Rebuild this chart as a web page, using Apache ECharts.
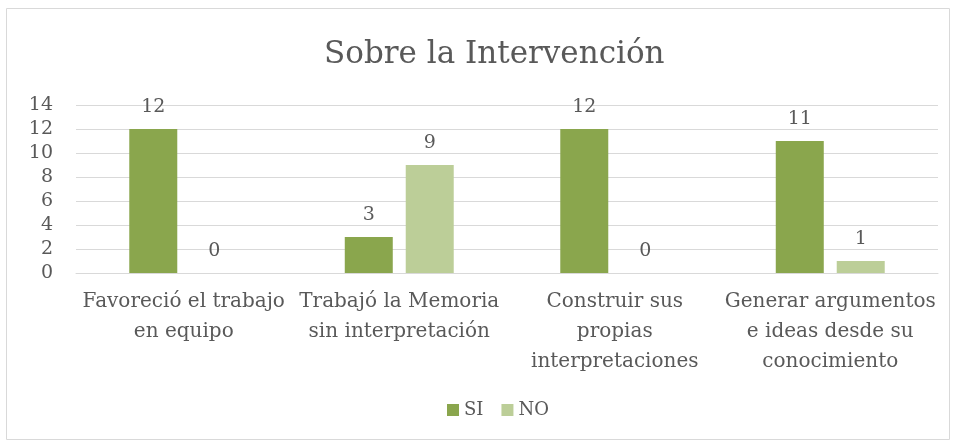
<!DOCTYPE html>
<html><head><meta charset="utf-8">
<script src="https://cdn.jsdelivr.net/npm/echarts@6/dist/echarts.min.js"></script>
<style>html,body{margin:0;padding:0;background:#fff}#c{width:956px;height:446px}</style>
</head><body><div id="c"></div>
<script>
const categories = ["Favoreció el trabajo\nen equipo", "Trabajó la Memoria\nsin interpretación", "Construir sus\npropias\ninterpretaciones", "Generar argumentos\ne ideas desde su\nconocimiento"];
const siValues = [12, 3, 12, 11];
const noValues = [0, 9, 0, 1];
const yTicks = [0, 2, 4, 6, 8, 10, 12, 14];
const FONT = "DejaVu Serif";
const TXT = "#595959";
const chart = echarts.init(document.getElementById('c'));
chart.setOption({
  animation: false,
  graphic: [{type:'rect', shape:{x:6.5,y:8.5,width:943,height:431}, style:{fill:'none', stroke:'#D9D9D9', lineWidth:1}, silent:true}],
  title: {text: 'Sobre la Intervención', left: 319, top: 34, textStyle:{fontFamily: FONT, fontSize: 31, fontWeight: 'normal', color: TXT}},
  legend: {bottom: 22, left: 442, itemWidth: 12, itemHeight: 12, itemGap: 18, icon: 'rect', textStyle:{fontFamily: FONT, fontSize: 18, color: TXT}, data:['SI','NO']},
  grid: {left: 76, right: 18, top: 105, bottom: 173, containLabel: false},
  xAxis: {type:'category', data: categories, axisTick:{show:false}, axisLine:{lineStyle:{color:'#D9D9D9', width:1}},
    axisLabel:{interval:0, fontFamily: FONT, fontSize: 20, color: TXT, lineHeight: 30, margin: 14}},
  yAxis: {type:'value', min: yTicks[0], max: yTicks[yTicks.length-1], interval: 2, axisLine:{show:false}, axisTick:{show:false},
    splitLine:{lineStyle:{color:'#D9D9D9', width:1}}, axisLabel:{fontFamily: FONT, fontSize: 19, color: TXT, margin: 23}},
  series: [
    {name:'SI', type:'bar', data: siValues, barWidth: 48, barGap: '27%', itemStyle:{color:'#8AA64D'},
      label:{show:true, position:'top', distance: 12, fontFamily: FONT, fontSize: 19, color: TXT}},
    {name:'NO', type:'bar', data: noValues, barWidth: 48, itemStyle:{color:'#BCCE98'},
      label:{show:true, position:'top', distance: 12, fontFamily: FONT, fontSize: 19, color: TXT}}
  ]
});
</script></body></html>
